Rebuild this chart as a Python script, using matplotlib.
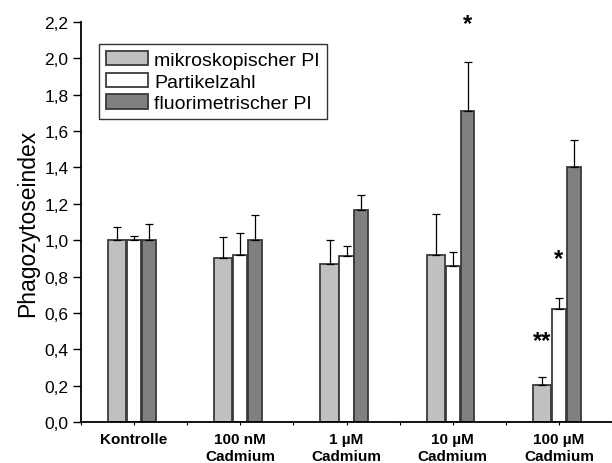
import matplotlib
matplotlib.use("Agg")
import matplotlib.pyplot as plt
import numpy as np
from matplotlib.ticker import FixedLocator, FuncFormatter

plt.rcParams['font.family'] = ['Liberation Sans', 'DejaVu Sans']

categories = ["Kontrolle", "100 nM\nCadmium", "1 µM\nCadmium", "10 µM\nCadmium", "100 µM\nCadmium"]
series_names = ["mikroskopischer PI", "Partikelzahl", "fluorimetrischer PI"]
mikro = [1.00, 0.903, 0.870, 0.917, 0.202]
mikro_err = [0.073, 0.112, 0.130, 0.226, 0.044]
partikel = [1.00, 0.921, 0.912, 0.859, 0.620]
partikel_err = [0.024, 0.118, 0.057, 0.077, 0.063]
fluor = [1.00, 1.00, 1.165, 1.712, 1.404]
fluor_err = [0.088, 0.138, 0.085, 0.266, 0.149]
yticks = [0.0, 0.2, 0.4, 0.6, 0.8, 1.0, 1.2, 1.4, 1.6, 1.8, 2.0, 2.2]
# significance marks: (category index, series index, y, text)
sig_marks = [(3, 2, 2.19, "*"), (4, 0, 0.45, "**"), (4, 1, 0.90, "*")]

fig = plt.figure(figsize=(6.12, 4.64), dpi=100)
ax = fig.add_axes([81/612, 1-423/464, 1-81/612, 400/464])

x = np.arange(len(categories))
offsets = [-0.16, 0.0, 0.14]
widths = [0.17, 0.135, 0.13]
colors = ["#c0c0c0", "#ffffff", "#808080"]
data = [mikro, partikel, fluor]
errs = [mikro_err, partikel_err, fluor_err]

for i in range(3):
    ax.bar(x + offsets[i], data[i], width=widths[i], color=colors[i],
           edgecolor="#3a3a3a", linewidth=1.3, label=series_names[i], zorder=2)
    ax.errorbar(x + offsets[i], data[i], yerr=[np.zeros(len(x)), errs[i]],
                fmt="none", ecolor="black", elinewidth=0.9, capsize=3,
                capthick=0.9, zorder=3)

for ci, si, yv, txt in sig_marks:
    ax.text(x[ci] + offsets[si], yv, txt, ha="center", va="center",
            fontsize=17, fontweight="bold", clip_on=False)

ax.set_xlim(-0.5, 4.4)
ax.set_ylim(0, 2.2)
ax.spines["top"].set_visible(False)
ax.spines["right"].set_visible(False)
ax.spines["left"].set_linewidth(1.3)
ax.spines["bottom"].set_linewidth(1.3)

ax.yaxis.set_major_locator(FixedLocator(yticks))
ax.yaxis.set_major_formatter(FuncFormatter(lambda v, p: f"{v:.1f}".replace(".", ",")))
ax.tick_params(axis="y", direction="out", length=6, width=1.0, labelsize=12.5, pad=3)

ax.set_xticks(x)
ax.set_xticklabels(categories, fontweight="bold", fontsize=11, linespacing=1.25)
ax.set_xticks(np.arange(-0.5, 4.6, 1.0), minor=True)
ax.tick_params(axis="x", which="major", direction="out", length=2.5, width=0.8, pad=5)
ax.tick_params(axis="x", which="minor", direction="out", length=2.5, width=0.8)

ax.set_ylabel("Phagozytoseindex", fontsize=16.5, labelpad=4)

leg = ax.legend(loc="upper left", bbox_to_anchor=((99-81)/531, (423-45)/400),
                fontsize=14, frameon=True, fancybox=False, edgecolor="black",
                handlelength=2.15, handleheight=0.75, labelspacing=0.2,
                borderpad=0.35, handletextpad=0.35, borderaxespad=0)
leg.get_frame().set_linewidth(1.0)
for h in leg.legend_handles:
    h.set_edgecolor("#3a3a3a")

fig.savefig("out.png", dpi=100)
